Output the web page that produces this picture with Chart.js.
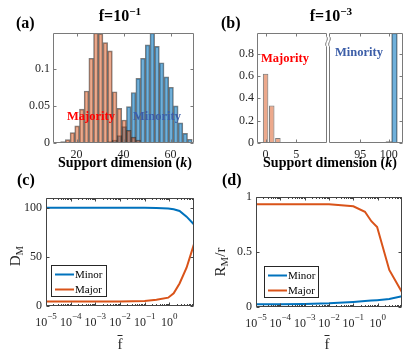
<!DOCTYPE html>
<html>
<head>
<meta charset="utf-8">
<script src="https://cdn.jsdelivr.net/npm/chart.js@4.4.0/dist/chart.umd.min.js"></script>
<style>
html, body { margin: 0; padding: 0; background: #fff; }
#fig { position: relative; width: 415px; height: 358px; overflow: hidden; font-family: "Liberation Serif", "Times New Roman", serif; color: #262626; }
canvas { position: absolute; }
.t { position: absolute; white-space: nowrap; line-height: 1; }
.b { font-weight: bold; color: #000; }
.c { transform: translateX(-50%); }
sup { font-size: 0.7em; vertical-align: 0.5em; line-height: 0; }
sub { font-size: 0.72em; vertical-align: -0.3em; line-height: 0; }
.rot { transform: translate(-50%, -50%) rotate(-90deg); }
</style>
</head>
<body>
<div id="fig">
  <canvas id="cA" width="205" height="180" style="left:0;top:0"></canvas>
  <canvas id="cBL" width="124" height="180" style="left:205px;top:0"></canvas>
  <canvas id="cBR" width="87" height="180" style="left:328px;top:0"></canvas>
  <canvas id="cC" width="205" height="178" style="left:0;top:180px"></canvas>
  <canvas id="cD" width="208" height="178" style="left:207px;top:180px"></canvas>

  <div class="t b" style="left:16px;top:15px;font-size:16px">(a)</div>
  <div class="t b" style="left:221px;top:15px;font-size:16px">(b)</div>
  <div class="t b" style="left:17px;top:172px;font-size:16px">(c)</div>
  <div class="t b" style="left:222px;top:172px;font-size:16px">(d)</div>

  <div class="t b c" style="left:120px;top:8px;font-size:16px">f=10<sup>−1</sup></div>
  <div class="t b c" style="left:331px;top:8px;font-size:16px">f=10<sup>−3</sup></div>

  <div class="t b c" style="left:125px;top:156px;font-size:14px">Support dimension (<i>k</i>)</div>
  <div class="t b c" style="left:330px;top:156px;font-size:14px">Support dimension (<i>k</i>)</div>

  <div class="t b c" style="left:91px;top:110px;font-size:12.5px;color:#ff0000">Majority</div>
  <div class="t b c" style="left:157px;top:110px;font-size:12.5px;color:#3c5ea8">Minority</div>
  <div class="t b c" style="left:285px;top:52px;font-size:12.5px;color:#ff0000">Majority</div>
  <div class="t b c" style="left:359px;top:46px;font-size:12.5px;color:#3c5ea8">Minority</div>

  <div class="t rot" style="left:15px;top:256px;font-size:15px">D<sub>M</sub></div>
  <div class="t rot" style="left:220px;top:262px;font-size:15px">R<sub>M</sub>/r</div>
  <div class="t c" style="left:120px;top:337px;font-size:15px"><span style="text-decoration:overline">f</span></div>
  <div class="t c" style="left:327px;top:337px;font-size:15px"><span style="text-decoration:overline">f</span></div>
</div>

<script>
// (a) f = 1e-1 : histogram bins (support dimension k) and normalised counts
const kBinsA = [14.25, 16.25, 18.25, 20.25, 22.25, 24.25, 26.25, 28.25, 30.25, 32.25, 34.25, 36.25, 38.25, 40.25,
    42.25, 44.25, 46.25, 48.25, 50.25, 52.25, 54.25, 56.25, 58.25, 60.25, 62.25, 64.25, 66.25, 68.25];
const majorityA = [0.002, 0.0046, 0.014, 0.023, 0.0455, 0.070, 0.114, 0.148, 0.147, 0.135, 0.124, 0.069, 0.0465, 0.031,
    0.017, 0.008, 0.004, 0.001, 0, 0, 0, 0, 0, 0, 0, 0, 0, 0];
const minorityA = [0, 0, 0, 0, 0, 0, 0, 0, 0, 0, 0.002, 0.004, 0.010, 0.022,
    0.049, 0.068, 0.087, 0.114, 0.132, 0.148, 0.130, 0.108, 0.089, 0.075, 0.050, 0.027, 0.013, 0.005];
const xTicksA = [20, 40, 60];
const yTicksA = [0, 0.05, 0.1];

// (b) f = 1e-3 : broken k axis
const kBinsBL = [0, 1, 2];
const majorityB = [0.62, 0.335, 0.045];
const kBinsBR = [100, 101];
const minorityB = [0.012, 0.985];
const xTicksBL = [0, 5];
const xTicksBR = [95, 100];
const yTicksB = [0, 0.2, 0.4, 0.6, 0.8];

// (c) D_M vs mean f
const fBarC = [1e-5, 1e-4, 1e-3, 1e-2, 0.1, 0.3, 0.9, 1.5, 2.6, 5, 10];
const minorC = [100, 100, 100, 100, 100, 99.8, 99.4, 98.5, 96.8, 91, 83];
const majorC = [4.5, 4.5, 4.5, 4.6, 5.2, 6.3, 8.5, 13, 23, 39, 63];
const yTicksC = [0, 50, 100];

// (d) R_M / r vs mean f
const fBarD = [1e-5, 1e-4, 1e-3, 1e-2, 0.1, 0.3, 0.55, 0.95, 3, 10];
const minorD = [0.024, 0.025, 0.028, 0.034, 0.046, 0.054, 0.058, 0.062, 0.072, 0.098];
const majorD = [0.935, 0.935, 0.935, 0.933, 0.915, 0.866, 0.78, 0.728, 0.337, 0.135];
const yTicksD = [0, 0.5, 1];

const logDecades = [-5, -4, -3, -2, -1, 0];

const FONT = '"Liberation Serif", "Times New Roman", serif';
Chart.defaults.font.family = FONT;
Chart.defaults.font.size = 12;
Chart.defaults.color = "#262626";

const ORANGE = "#D95319";
const BLUE = "#0072BD";
const barOrange = "rgba(217, 83, 25, 0.5)";
const barBlue = "rgba(0, 114, 189, 0.56)";
const barEdge = "rgba(40, 40, 40, 0.6)";

// MATLAB-like box: inward ticks, log minor ticks, legend box, axis break
const axesBox = {
    id: "axesBox",
    afterDraw(chart, args, o) {
        const ctx = chart.ctx;
        const a = chart.chartArea;
        const xs = chart.scales.x;
        const ys = chart.scales.y;
        const L = Math.round(a.left) + 0.5;
        const R = Math.round(a.right) - 0.5;
        const T = Math.round(a.top) + 0.5;
        const B = Math.round(a.bottom) - 0.5;
        const sides = o.sides || "tlbr";
        const seg = (x1, y1, x2, y2) => {
            ctx.beginPath();
            ctx.moveTo(x1, y1);
            ctx.lineTo(x2, y2);
            ctx.stroke();
        };
        const wiggle = (x) => {
            ctx.beginPath();
            ctx.moveTo(x, T);
            ctx.lineTo(x, T + 3);
            ctx.bezierCurveTo(x + 3, T + 6, x - 3, T + 10, x, T + 13);
            ctx.lineTo(x, B);
            ctx.stroke();
        };

        ctx.save();
        ctx.strokeStyle = o.color || "#555";
        ctx.lineWidth = 1;

        if (sides.includes("t")) seg(L, T, R, T);
        if (sides.includes("b")) seg(L, B, R, B);
        if (sides.includes("l")) seg(L, T, L, B);
        if (sides.includes("r")) seg(R, T, R, B);
        if (o.breakRight) wiggle(R);
        if (o.breakLeft) wiggle(L);

        const tl = 3;
        (o.xTicks || []).forEach((v) => {
            const p = Math.round(xs.getPixelForValue(v)) + 0.5;
            seg(p, B, p, B - tl);
            seg(p, T, p, T + tl);
        });
        (o.yTicks || []).forEach((v) => {
            const p = Math.round(ys.getPixelForValue(v)) + 0.5;
            if (sides.includes("l")) seg(L, p, L + tl, p);
            if (sides.includes("r")) seg(R, p, R - tl, p);
        });

        if (o.log) {
            logDecades.concat([1]).forEach((e) => {
                const p = Math.round(xs.getPixelForValue(Math.pow(10, e))) + 0.5;
                if (p >= L && p <= R) {
                    seg(p, B, p, B - tl);
                    seg(p, T, p, T + tl);
                }
                if (e > 0) return;
                for (let m = 2; m <= 9; m++) {
                    const q = Math.round(xs.getPixelForValue(m * Math.pow(10, e))) + 0.5;
                    seg(q, B, q, B - 1.5);
                    seg(q, T, q, T + 1.5);
                }
            });
            // 10^n tick labels
            ctx.fillStyle = "#262626";
            ctx.textBaseline = "alphabetic";
            ctx.textAlign = "left";
            logDecades.forEach((e) => {
                const p = xs.getPixelForValue(Math.pow(10, e));
                const sup = e < 0 ? "\u2212" + (-e) : String(e);
                ctx.font = "12px " + FONT;
                const wb = ctx.measureText("10").width;
                ctx.font = "9px " + FONT;
                const ws = ctx.measureText(sup).width;
                const x0 = p - (wb + ws) / 2;
                ctx.font = "12px " + FONT;
                ctx.fillText("10", x0, B + 20);
                ctx.font = "9px " + FONT;
                ctx.fillText(sup, x0 + wb, B + 13);
            });
        }

        if (o.legend) {
            const lg = o.legend;
            ctx.fillStyle = "#fff";
            ctx.fillRect(lg.x, lg.y, lg.w, lg.h);
            ctx.strokeStyle = "#262626";
            ctx.strokeRect(lg.x + 0.5, lg.y + 0.5, lg.w, lg.h);
            chart.data.datasets.forEach((d, i) => {
                const y = lg.y + 9.5 + i * 15;
                ctx.strokeStyle = d.borderColor;
                ctx.lineWidth = 2;
                seg(lg.x + 4, y, lg.x + 23, y);
                ctx.fillStyle = "#000";
                ctx.font = "11px " + FONT;
                ctx.textBaseline = "middle";
                ctx.fillText(d.label, lg.x + 24, y + 0.5);
            });
        }
        ctx.restore();
    },
};

function fixedTicks(list) {
    return (s) => {
        s.ticks = list.map((v) => ({ value: v }));
    };
}

function makeChart(id, area, type, datasets, xOpt, yOpt, box) {
    const cv = document.getElementById(id);
    const W = cv.width;
    const H = cv.height;
    return new Chart(cv, {
        type: type,
        data: { datasets: datasets },
        plugins: [axesBox],
        options: {
            responsive: false,
            animation: false,
            devicePixelRatio: 1,
            layout: { padding: { left: 0, top: area.t, right: W - area.r, bottom: 0 } },
            plugins: { legend: { display: false }, tooltip: { enabled: false }, axesBox: box },
            scales: {
                x: Object.assign({
                    grid: { display: false, drawTicks: false },
                    border: { display: false },
                    afterFit: (s) => { s.height = H - area.b; },
                }, xOpt),
                y: Object.assign({
                    grid: { display: false, drawTicks: false },
                    border: { display: false },
                    afterFit: (s) => { s.width = area.l; },
                }, yOpt),
            },
        },
    });
}

const pts = (xs, ys) => xs.map((x, i) => ({ x: x, y: ys[i] }));
const barSet = (xs, ys, color) => ({
    data: pts(xs, ys),
    backgroundColor: color,
    borderColor: barEdge,
    borderWidth: 1,
    barPercentage: 1,
    categoryPercentage: 1,
    grouped: false,
});
const lineSet = (label, xs, ys, color) => ({
    type: "line",
    label: label,
    data: pts(xs, ys),
    borderColor: color,
    borderWidth: 2,
    pointRadius: 0,
    tension: 0,
    fill: false,
});
const tickFmt = (v) => String(v);

// (a)
makeChart("cA", { l: 53, r: 194, t: 33, b: 143 }, "bar",
    [barSet(kBinsA, majorityA, barOrange), barSet(kBinsA, minorityA, barBlue)],
    { type: "linear", min: 10, max: 70, offset: false, afterBuildTicks: fixedTicks(xTicksA),
        ticks: { padding: 5, callback: tickFmt, maxRotation: 0 } },
    { type: "linear", min: 0, max: 0.148, afterBuildTicks: fixedTicks(yTicksA),
        ticks: { padding: 3, callback: tickFmt } },
    { color: "#7a7a7a", xTicks: xTicksA, yTicks: yTicksA });

// (b) left part
makeChart("cBL", { l: 52, r: 122, t: 33, b: 143 }, "bar",
    [Object.assign(barSet(kBinsBL, majorityB, barOrange), { barPercentage: 0.9 })],
    { type: "linear", min: -1.4, max: 10, offset: false, afterBuildTicks: fixedTicks(xTicksBL),
        ticks: { padding: 5, callback: tickFmt, maxRotation: 0 } },
    { type: "linear", min: 0, max: 0.985, afterBuildTicks: fixedTicks(yTicksB),
        ticks: { padding: 3, callback: tickFmt } },
    { color: "#7a7a7a", sides: "tlb", breakRight: true, xTicks: xTicksBL, yTicks: yTicksB });

// (b) right part
makeChart("cBR", { l: 1, r: 75, t: 33, b: 143 }, "bar",
    [barSet(kBinsBR, minorityB, barBlue)],
    { type: "linear", min: 89.5, max: 102.5, offset: false, afterBuildTicks: fixedTicks(xTicksBR),
        ticks: { padding: 5, callback: tickFmt, maxRotation: 0 } },
    { type: "linear", min: 0, max: 0.985, afterBuildTicks: fixedTicks(yTicksB), ticks: { display: false } },
    { color: "#7a7a7a", sides: "tbr", breakLeft: true, xTicks: xTicksBR, yTicks: yTicksB });

// (c)
makeChart("cC", { l: 46, r: 194, t: 18, b: 126 }, "line",
    [lineSet("Minor", fBarC, minorC, BLUE), lineSet("Major", fBarC, majorC, ORANGE)],
    { type: "logarithmic", min: 1e-5, max: 10, ticks: { display: false } },
    { type: "linear", min: 0, max: 110, afterBuildTicks: fixedTicks(yTicksC),
        ticks: { padding: 4, callback: tickFmt } },
    { color: "#444", log: true, yTicks: yTicksC, legend: { x: 51, y: 85, w: 55, h: 31 } });

// (d)
makeChart("cD", { l: 49, r: 195, t: 17, b: 127 }, "line",
    [lineSet("Minor", fBarD, minorD, BLUE), lineSet("Major", fBarD, majorD, ORANGE)],
    { type: "logarithmic", min: 1e-5, max: 10, ticks: { display: false } },
    { type: "linear", min: 0, max: 1, afterBuildTicks: fixedTicks(yTicksD),
        ticks: { padding: 4, callback: tickFmt } },
    { color: "#444", log: true, yTicks: yTicksD, legend: { x: 57, y: 86, w: 54, h: 31 } });
</script>
</body>
</html>
